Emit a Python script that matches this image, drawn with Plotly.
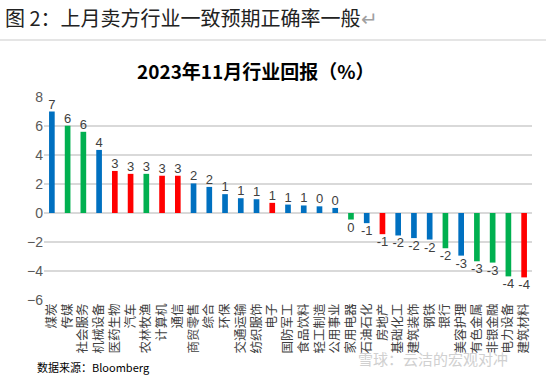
import plotly.graph_objects as go

categories = ["煤炭", "传媒", "社会服务", "机械设备", "医药生物", "汽车", "农林牧渔", "计算机", "通信",
              "商贸零售", "综合", "环保", "交通运输", "纺织服饰", "电子", "国防军工", "食品饮料", "轻工制造",
              "公用事业", "家用电器", "石油石化", "房地产", "基础化工", "建筑装饰", "钢铁", "银行",
              "美容护理", "有色金属", "非银金融", "电力设备", "建筑材料"]
returns = [7.0, 6.02, 5.6, 4.35, 2.9, 2.7, 2.7, 2.57, 2.57,
           2.04, 1.8, 1.3, 1.02, 0.95, 0.7, 0.58, 0.52, 0.46,
           0.35, -0.45, -0.7, -1.46, -1.55, -1.73, -1.83, -2.43,
           -2.94, -3.33, -3.42, -4.37, -4.44]
color_groups = ["b", "g", "g", "b", "r", "r", "g", "r", "r",
                "b", "b", "b", "b", "b", "r", "b", "b", "b",
                "b", "g", "b", "r", "b", "b", "b", "g",
                "b", "g", "g", "g", "r"]
palette = {"b": "#0070C0", "g": "#00B050", "r": "#FF0000"}
y_ticks = [-6, -4, -2, 0, 2, 4, 6, 8]

FONT = "Noto Sans CJK SC"
W, H = 546, 378
L, R, T, B = 44, 14, 97, 78
pw, ph = W - L - R, H - T - B

def px(x):
    return (x - L) / pw

def py(y):
    return (H - B - y) / ph

fig = go.Figure(go.Bar(
    x=categories, y=returns,
    marker=dict(color=[palette[c] for c in color_groups], line=dict(width=0)),
    text=[f"{v:.0f}" if round(v) != 0 else "0" for v in returns],
    textposition="outside",
    constraintext="none",
    textfont=dict(family="Liberation Sans", size=13, color="#404040"),
    cliponaxis=False,
    width=0.36,
))

fig.update_layout(
    width=W, height=H,
    margin=dict(l=L, r=R, t=T, b=B, autoexpand=False),
    paper_bgcolor="white", plot_bgcolor="white",
    showlegend=False,
    font=dict(family=FONT),
    xaxis=dict(tickangle=-90, tickfont=dict(family=FONT, size=12.5, color="#404040"),
               showgrid=False, showline=False, ticks="", automargin=False),
    yaxis=dict(range=[-6, 8], tickvals=y_ticks, tickfont=dict(family="Liberation Sans", size=14, color="#595959"),
               showgrid=True, gridcolor="#D9D9D9", gridwidth=1.5, zeroline=True, zerolinecolor="#D9D9D9",
               zerolinewidth=1.5, ticks="", showline=False, automargin=False),
    annotations=[
        dict(text="图 2：上月卖方行业一致预期正确率一般<span style='color:#A0A0A0'>↵</span>",
             x=px(3), y=py(17), xref="paper", yref="paper", xanchor="left", yanchor="middle",
             showarrow=False, font=dict(family=FONT, size=20, color="#222222")),
        dict(text="<b>2023年11月行业回报（%）</b>",
             x=px(256), y=py(70), xref="paper", yref="paper", xanchor="center", yanchor="middle",
             showarrow=False, font=dict(family=FONT, size=19, color="#000000")),
        dict(text="数据来源：Bloomberg",
             x=px(35), y=py(367), xref="paper", yref="paper", xanchor="left", yanchor="middle",
             showarrow=False, font=dict(family=FONT, size=11, color="#000000")),
        dict(text="雪球：云洁的宏观对冲",
             x=px(510), y=py(358), xref="paper", yref="paper", xanchor="right", yanchor="middle",
             showarrow=False, font=dict(family=FONT, size=15, color="#D0D0D0")),
    ],
    shapes=[
        dict(type="line", xref="paper", yref="paper", x0=px(0), x1=px(546), y0=py(40), y1=py(40),
             line=dict(color="#DDDDDD", width=1.5)),
    ],
)

fig.write_html("out.html", config={"displayModeBar": False},
               post_script="document.body.style.margin='0';")
